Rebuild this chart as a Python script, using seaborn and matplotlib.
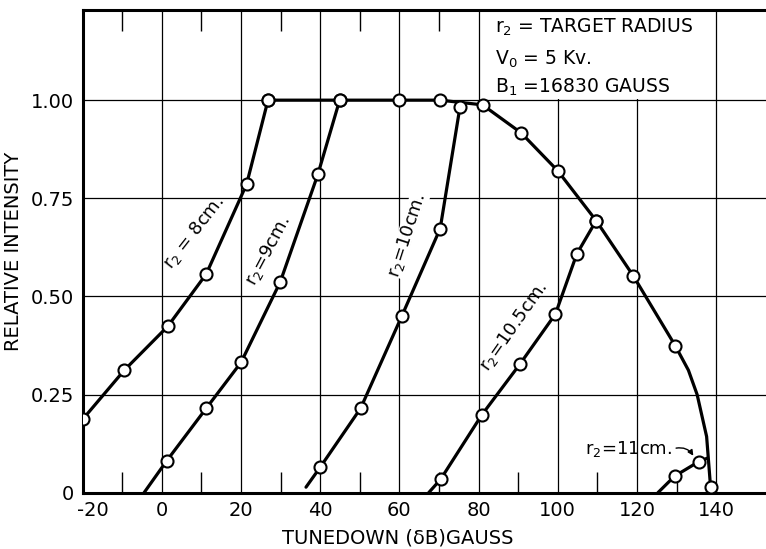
import numpy as np
import pandas as pd
import matplotlib
matplotlib.use('Agg')
import matplotlib.pyplot as plt
import matplotlib.transforms as mtrans
import seaborn as sns
from matplotlib.patches import Rectangle

# curve vertices; marked = drawn with an open circle
r8_x = [-20, -9.5, 1.5, 11.2, 21.4, 26.8]
r8_y = [0.187, 0.312, 0.424, 0.557, 0.786, 1.0]
r8_m = [1, 1, 1, 1, 1, 1]

r9_x = [-4.5, 1.2, 11.2, 20.0, 29.9, 39.4, 44.9]
r9_y = [0.0, 0.081, 0.215, 0.332, 0.537, 0.811, 1.0]
r9_m = [0, 1, 1, 1, 1, 1, 1]

r10_x = [36.4, 40.0, 50.2, 60.6, 70.3, 75.3]
r10_y = [0.014, 0.065, 0.215, 0.45, 0.673, 0.983]
r10_m = [0, 1, 1, 1, 1, 1]

r105_x = [67.4, 70.4, 80.8, 90.4, 99.4, 104.8, 109.7]
r105_y = [0.0, 0.034, 0.198, 0.327, 0.455, 0.608, 0.693]
r105_m = [0, 1, 1, 1, 1, 1, 1]

r11_x = [125.3, 129.5, 135.6, 137.8]
r11_y = [0.0, 0.042, 0.079, 0.088]
r11_m = [0, 1, 1, 0]

env_x = [26.8, 44.9, 60.0, 70.3, 81.0, 90.7, 100.0, 109.7, 119.1, 129.7, 133.0, 135.2, 137.6, 138.6]
env_y = [1.0, 1.0, 1.0, 1.0, 0.988, 0.917, 0.82, 0.693, 0.552, 0.374, 0.312, 0.25, 0.143, 0.014]
env_m = [1, 1, 1, 1, 1, 1, 1, 1, 1, 1, 0, 0, 0, 1]

curves = {'8': (r8_x, r8_y, r8_m), '9': (r9_x, r9_y, r9_m), '10': (r10_x, r10_y, r10_m),
          '10.5': (r105_x, r105_y, r105_m), '11': (r11_x, r11_y, r11_m), 'env': (env_x, env_y, env_m)}
df = pd.concat([pd.DataFrame({'curve': k, 'x': v[0], 'y': v[1], 'marked': v[2]}) for k, v in curves.items()],
               ignore_index=True)

xticks = list(range(-20, 141, 20))
yticks = [0, 0.25, 0.5, 0.75, 1.0]
ylabels = ['0', '0.25', '0.50', '0.75', '1.00']

sns.set_style('white')
plt.rcParams['font.family'] = ['DejaVu Sans']
plt.rcParams['mathtext.default'] = 'regular'
plt.rcParams['text.color'] = 'black'
plt.rcParams['axes.labelcolor'] = 'black'

fig, ax = plt.subplots(figsize=(7.66, 5.49), dpi=100)
fig.subplots_adjust(left=0.108, right=1.0, bottom=0.1026, top=0.982)

sns.lineplot(data=df, x='x', y='y', units='curve', estimator=None, sort=False,
             color='black', lw=2.3, ax=ax, zorder=2)
sns.scatterplot(data=df[df.marked == 1], x='x', y='y', s=75, color='white',
                edgecolor='black', linewidth=1.5, zorder=3, ax=ax, legend=False)

ax.set_xlim(-20, 152.6)
ax.set_ylim(0, 1.23)
ax.set_xticks(xticks)
ax.set_xticklabels([str(t) for t in xticks])
ax.set_xticks(list(range(-10, 131, 20)), minor=True)
ax.set_yticks(yticks)
ax.set_yticklabels(ylabels)
ax.tick_params(which='major', length=0, labelsize=14, pad=6, colors='black')
ax.tick_params(which='minor', direction='in', length=15, width=1, top=True, bottom=True, color='black')
ax.set_axisbelow(True)
ax.grid(True, which='major', color='black', lw=0.9)

# nudge "-20" right so it clears the "0" of the y axis, as in the original
first = ax.get_xticklabels()[0]
first.set_transform(first.get_transform() + mtrans.ScaledTranslation(0.1, 0, fig.dpi_scale_trans))

for s in ['left', 'bottom', 'top']:
    ax.spines[s].set_linewidth(2.2)
    ax.spines[s].set_color('black')
ax.spines['right'].set_visible(False)

ax.set_xlabel('TUNEDOWN (δB)GAUSS', fontsize=14)
ax.xaxis.set_label_coords(0.461, -0.075)
ax.set_ylabel('RELATIVE INTENSITY', fontsize=14, labelpad=6)

# white panel behind the key text
ax.add_patch(Rectangle((81.5, 1.004), 57, 0.25, facecolor='white', edgecolor='none', zorder=1))
ax.text(84.2, 1.186, 'r$_2$ = TARGET RADIUS', fontsize=13.5, va='center', zorder=4)
ax.text(84.2, 1.105, 'V$_0$ = 5 Kv.', fontsize=13.5, va='center', zorder=4)
ax.text(84.2, 1.032, 'B$_1$ =16830 GAUSS', fontsize=13.5, va='center', zorder=4)

ax.text(8, 0.664, 'r$_2$ = 8cm.', rotation=52, ha='center', va='center', fontsize=13)
ax.text(26.8, 0.617, 'r$_2$=9cm.', rotation=62, ha='center', va='center', fontsize=13)
ax.text(62, 0.656, 'r$_2$=10cm.', rotation=72, ha='center', va='center', fontsize=13,
        bbox=dict(facecolor='white', edgecolor='none', pad=0))
ax.text(89, 0.424, 'r$_2$=10.5cm.', rotation=55, ha='center', va='center', fontsize=13)
ax.text(107, 0.11, 'r$_2$=11cm.', ha='left', va='center', fontsize=13)
ax.annotate('', xy=(134.6, 0.088), xytext=(129.2, 0.112),
            arrowprops=dict(arrowstyle='-|>', connectionstyle='arc3,rad=-0.4', color='black', lw=1,
                            mutation_scale=8))

fig.savefig('out.png', dpi=100)
